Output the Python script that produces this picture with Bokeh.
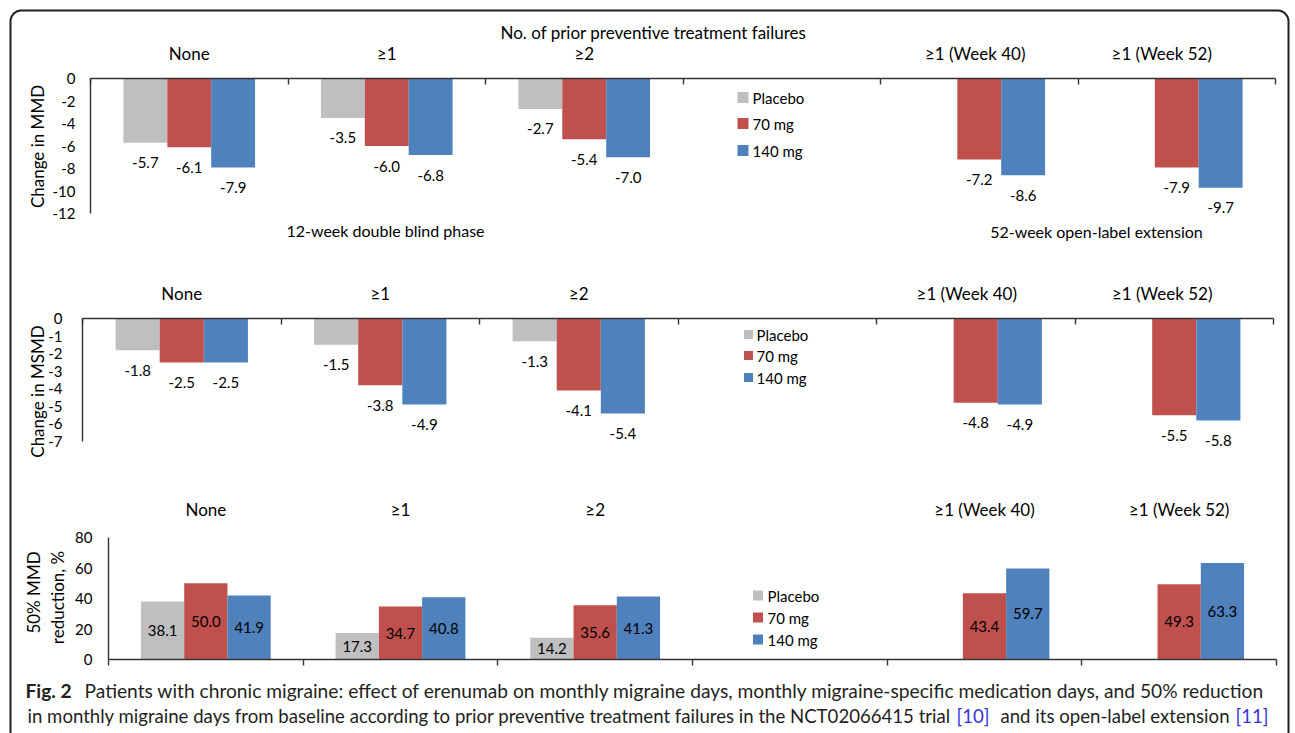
from math import pi
import numpy as np
from bokeh.plotting import figure
from bokeh.models import Range1d, FixedTicker, LinearAxis, LabelSet, ColumnDataSource
from bokeh.embed import file_html
from bokeh.resources import INLINE
from bokeh.core.properties import value

# ---------------- data ----------------
categories = ["None", "\u22651", "\u22652", "", "\u22651 (Week 40)", "\u22651 (Week 52)"]
series = ["Placebo", "70 mg", "140 mg"]
colors = ["#BFBFBF", "#C0504D", "#4F81BD"]

mmd_placebo = [-5.7, -3.5, -2.7, None, None, None]
mmd_70mg = [-6.1, -6.0, -5.4, None, -7.2, -7.9]
mmd_140mg = [-7.9, -6.8, -7.0, None, -8.6, -9.7]

msmd_placebo = [-1.8, -1.5, -1.3, None, None, None]
msmd_70mg = [-2.5, -3.8, -4.1, None, -4.8, -5.5]
msmd_140mg = [-2.5, -4.9, -5.4, None, -4.9, -5.8]

resp_placebo = [38.1, 17.3, 14.2, None, None, None]
resp_70mg = [50.0, 34.7, 35.6, None, 43.4, 49.3]
resp_140mg = [41.9, 40.8, 41.3, None, 59.7, 63.3]

mmd_ticks = [0, -2, -4, -6, -8, -10, -12]
msmd_ticks = [0, -1, -2, -3, -4, -5, -6, -7]
resp_ticks = [0, 20, 40, 60, 80]

top_title = "No. of prior preventive treatment failures"
phase_left = "12-week double blind phase"
phase_right = "52-week open-label extension"
ytitle_mmd = "Change in MMD"
ytitle_msmd = "Change in MSMD"
ytitle_resp = ["50% MMD", "reduction, %"]
caption_bold = "Fig. 2"
caption_l1 = ("Patients with chronic migraine: effect of erenumab on monthly migraine days, "
              "monthly migraine-specific medication days, and 50% reduction")
caption_l2a = ("in monthly migraine days from baseline according to prior preventive treatment "
               "failures in the NCT02066415 trial")
caption_ref1 = "[10]"
caption_l2b = "and its open-label extension"
caption_ref2 = "[11]"

# ---------------- layout constants (page pixels) ----------------
PW, PH = 1295, 733
FONT = "Lato"
NCAT = len(categories)
BW = 1 / 4.5          # bar width, Excel gap width 150%
AX_COLOR = "#333333"
TXT = "#000000"

p = figure(width=PW, height=PH, x_range=Range1d(0, PW), y_range=Range1d(PH, 0),
           x_axis_type=None, y_axis_type=None,
           output_backend="svg", toolbar_location=None,
           min_border=0, min_border_left=0, min_border_right=0,
           min_border_top=0, min_border_bottom=0)
p.outline_line_color = None
p.background_fill_color = "white"
p.border_fill_color = "white"


class Panel:
    """Maps category index / values of one panel onto page pixels via extra ranges."""

    def __init__(self, name, L, R, T, B, ytop, ybot):
        self.xn, self.yn = "x_" + name, "y_" + name
        self.L, self.R = L, R
        cw = (R - L) / NCAT
        self.cw = cw
        ppu = (B - T) / (ytop - ybot)
        v = lambda px: ytop - (px - T) / ppu
        p.extra_x_ranges[self.xn] = Range1d(-L / cw, (PW - L) / cw)
        p.extra_y_ranges[self.yn] = Range1d(v(PH), v(0))

    def shift(self, dpx):
        return dpx / self.cw


def style_axis(ax, standoff, size="15px"):
    ax.axis_line_color = AX_COLOR
    ax.axis_line_width = 1.4
    ax.major_label_text_font = FONT
    ax.major_label_text_font_size = size
    ax.major_label_text_color = TXT
    ax.major_label_standoff = standoff
    ax.major_tick_in = 0
    ax.major_tick_out = 0
    ax.minor_tick_in = 0
    ax.minor_tick_out = 0
    ax.major_tick_line_color = AX_COLOR
    ax.minor_tick_line_color = AX_COLOR
    ax.major_tick_line_width = 1.4
    ax.minor_tick_line_width = 1.4


def cat_label_axis(pn, shifts_px, loc, standoff, with_line):
    pos = []
    for i, name in enumerate(categories):
        if name:
            pos.append(round(i + 0.5 + pn.shift(shifts_px.get(i, 0)), 4))
    names = [c for c in categories if c]
    ax = LinearAxis(x_range_name=pn.xn, y_range_name=pn.yn, fixed_location=loc,
                    bounds=(0, NCAT))
    if with_line:
        ax.ticker = FixedTicker(ticks=pos, minor_ticks=list(range(NCAT + 1)))
    else:
        ax.ticker = FixedTicker(ticks=pos)
    ax.major_label_overrides = {float(t): n for t, n in zip(pos, names)}
    style_axis(ax, standoff, "17px")
    if with_line:
        ax.minor_tick_in = 6
    else:
        ax.axis_line_color = None
    p.add_layout(ax, "above")
    return ax


def value_axis(pn, ticks, standoff):
    ay = LinearAxis(x_range_name=pn.xn, y_range_name=pn.yn, fixed_location=0,
                    bounds=(min(ticks), max(ticks)))
    ay.ticker = FixedTicker(ticks=ticks)
    ay.major_label_overrides = {float(t): str(t) for t in ticks}
    style_axis(ay, standoff)
    p.add_layout(ay, "left")
    return ay


def add_bars(pn, vals_list, label_dy, label_mid):
    for k, (vals, col) in enumerate(zip(vals_list, colors)):
        xs, tops, ly, lt = [], [], [], []
        for i, v in enumerate(vals):
            if v is None:
                continue
            xs.append(i + 0.5 + (k - 1) * BW)
            tops.append(v)
            ly.append(v / 2 if label_mid else v)
            lt.append(f"{v:.1f}")
        p.vbar(x=xs, top=tops, bottom=0, width=BW, fill_color=col, line_color=None,
               x_range_name=pn.xn, y_range_name=pn.yn)
        src = ColumnDataSource(dict(x=xs, y=ly, t=lt))
        p.add_layout(LabelSet(x="x", y="y", text="t", source=src, y_offset=label_dy,
                              x_range_name=pn.xn, y_range_name=pn.yn,
                              text_font=value(FONT), text_font_size=value("15px"),
                              text_color=TXT, text_align="center", text_baseline="middle"))


def add_legend(sq_x, text_x, rows_y, size):
    p.scatter(x=[sq_x] * 3, y=rows_y, marker="square", size=size,
              fill_color=colors, line_color=None)
    p.text(x=[text_x] * 3, y=rows_y, text=series, text_font=value(FONT),
           text_font_size=value("15px"), text_color=TXT,
           text_align="left", text_baseline="middle")


def add_text(x, y, text, size="17px", align="center", angle=0.0, bold=False, color=TXT):
    p.text(x=[x], y=[y], text=[text], text_font=value(FONT), text_font_size=value(size),
           text_align=align, text_baseline="middle", angle=angle, text_color=color,
           text_font_style="bold" if bold else "normal")


# ---------------- panel 1: change in MMD ----------------
P1 = Panel("mmd", L=90, R=1275, T=78, B=213, ytop=0, ybot=-12)
add_bars(P1, [mmd_placebo, mmd_70mg, mmd_140mg], -20, False)
cat_label_axis(P1, {4: -4, 5: -15}, 0, 15, True)
value_axis(P1, mmd_ticks, 15)
add_legend(742.5, 752, [97, 123, 150], 11)
add_text(653, 32, top_title)
add_text(385, 230, phase_left, size="16px")
add_text(1096, 231, phase_right, size="16px")
add_text(37, 146, ytitle_mmd, angle=pi / 2)

# ---------------- panel 2: change in MSMD ----------------
P2 = Panel("msmd", L=82, R=1273, T=318, B=441, ytop=0, ybot=-7)
add_bars(P2, [msmd_placebo, msmd_70mg, msmd_140mg], -20, False)
cat_label_axis(P2, {4: -9, 5: -12}, 0, 15, True)
value_axis(P2, msmd_ticks, 20)
add_legend(748, 756, [334, 355, 377], 9)
add_text(37, 391, ytitle_msmd, angle=pi / 2)

# ---------------- panel 3: 50% responders ----------------
P3 = Panel("resp", L=108, R=1276, T=537, B=659, ytop=80, ybot=0)
add_bars(P3, [resp_placebo, resp_70mg, resp_140mg], 0, True)
bx = LinearAxis(x_range_name=P3.xn, y_range_name=P3.yn, fixed_location=0, bounds=(0, NCAT))
bx.ticker = FixedTicker(ticks=list(range(NCAT + 1)))
bx.major_label_overrides = {float(i): "" for i in range(NCAT + 1)}
style_axis(bx, 0)
bx.major_tick_out = 6
p.add_layout(bx, "below")
cat_label_axis(P3, {}, 80, 18, False)
value_axis(P3, resp_ticks, 16)
add_legend(757.5, 767, [595, 617, 639], 10)
add_text(33, 592, ytitle_resp[0], angle=pi / 2)
add_text(57, 597, ytitle_resp[1], angle=pi / 2)

# ---------------- caption ----------------
CAP1 = "19.2px"
CAP2 = "18.6px"
CAPC = "#231F20"
BLUE = "#3535D6"
add_text(25, 690, caption_bold, size=CAP1, align="left", bold=True, color=CAPC)
add_text(84, 690, caption_l1, size=CAP1, align="left", color=CAPC)
add_text(27, 715, caption_l2a, size=CAP2, align="left", color=CAPC)
add_text(956, 715, caption_ref1, size=CAP2, align="left", color=BLUE)
add_text(1000, 715, caption_l2b, size=CAP2, align="left", color=CAPC)
add_text(1268, 715, caption_ref2, size=CAP2, align="right", color=BLUE)

# ---------------- rounded frame border (decoration) ----------------
BL, BR, BT, RAD = 10, 1288, 10, 11
t = np.linspace(0, pi / 2, 16)
left_corner_x = list(BL + RAD - RAD * np.cos(t))
left_corner_y = list(BT + RAD - RAD * np.sin(t))
right_corner_x = list(BR - RAD + RAD * np.sin(t))
right_corner_y = list(BT + RAD - RAD * np.cos(t))
bx_pts = [BL] + left_corner_x + right_corner_x + [BR]
by_pts = [PH + 5] + left_corner_y + right_corner_y + [PH + 5]
p.line(x=bx_pts, y=by_pts, line_color="#1E1E1E", line_width=2)

with open("out.html", "w") as fh:
    fh.write(file_html(p, INLINE))
